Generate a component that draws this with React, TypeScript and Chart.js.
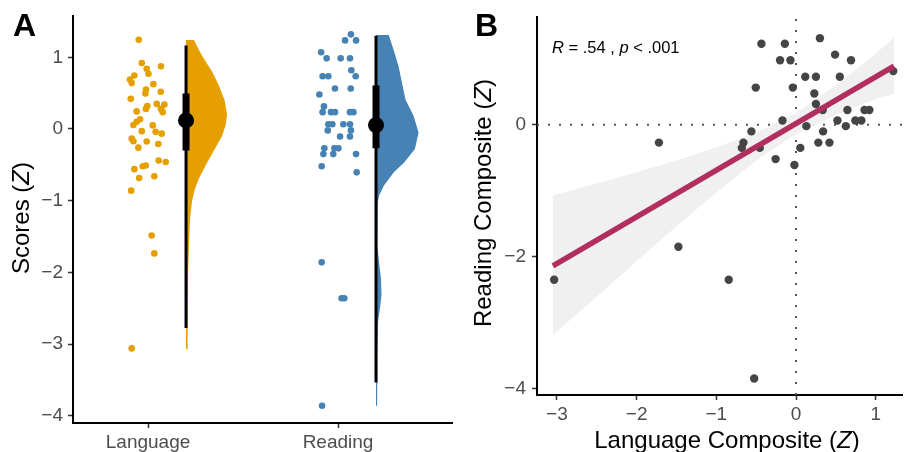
import React, { useEffect, useRef } from 'react';
import { Chart, registerables } from 'chart.js';

Chart.register(...registerables);

const FONT = "'Liberation Sans', Arial, Helvetica, sans-serif";

// ---------------- Panel A data ----------------
const categories = ['Language', 'Reading'];
const categoryPositions = [1, 2];
const scoreTicks = [-4, -3, -2, -1, 0, 1];
const panelAXRange = [0.605, 2.6];
const panelAYRange = [-4.1, 1.57];

const languageJitterX = [
  0.951, 0.967, 1.068, 0.993, 1.002, 0.928, 0.905, 0.914, 1.028, 0.989, 1.067, 0.986, 0.909, 1.046, 1.086,
  0.996, 0.989, 1.068, 0.94, 1.077, 0.958, 0.94, 0.923, 1.025, 0.967, 1.04, 1.072, 0.914, 0.923, 0.993,
  1.054, 0.949, 1.056, 1.093, 0.988, 0.972, 0.928, 1.033, 0.953, 0.911, 1.019, 1.033, 0.914,
];
const languageScores = [
  1.245, 0.92, 0.875, 0.84, 0.77, 0.745, 0.69, 0.64, 0.625, 0.55, 0.52, 0.495, 0.42, 0.35, 0.34,
  0.32, 0.28, 0.28, 0.245, 0.235, 0.135, 0.1, 0.055, 0.05, -0.03, -0.04, -0.065, -0.135, -0.17, -0.175,
  -0.21, -0.26, -0.44, -0.46, -0.51, -0.52, -0.56, -0.66, -0.685, -0.86, -1.485, -1.735, -3.06,
];
const readingJitterX = [
  2.068, 2.037, 2.095, 1.911, 1.94, 2.014, 2.063, 2.07, 1.919, 1.949, 2.093, 1.984, 2.067, 1.902, 1.926,
  1.919, 1.963, 1.984, 2.063, 2.081, 1.949, 1.97, 2.028, 2.063, 1.946, 2.068, 2.011, 2.063, 1.928, 1.981,
  2.002, 1.923, 1.975, 2.095, 1.914, 2.098, 1.914, 2.019, 2.033, 1.916,
];
const readingScores = [
  1.32, 1.235, 1.235, 1.07, 0.985, 0.985, 0.985, 0.82, 0.735, 0.735, 0.735, 0.565, 0.565, 0.48, 0.315,
  0.235, 0.235, 0.235, 0.235, 0.235, 0.065, 0.065, 0.065, 0.065, -0.02, -0.02, -0.105, -0.105, -0.27, -0.27,
  -0.27, -0.35, -0.35, -0.35, -0.52, -0.605, -1.86, -2.36, -2.36, -3.86,
];

const boxX = [1.2, 2.2];
const means = [0.12, 0.055];
const q1 = [-0.3, -0.27];
const q3 = [0.495, 0.605];
const whiskerLow = [-2.775, -3.535];
const whiskerHigh = [1.165, 1.3];

const languageViolinY = [1.24, 1.1, 1.0, 0.8, 0.6, 0.4, 0.2, 0.05, -0.1, -0.3, -0.5, -0.7, -0.85, -1.0, -1.25, -1.5, -1.75, -2.0, -2.5, -3.07];
const languageViolinWidth = [0.042, 0.068, 0.089, 0.137, 0.174, 0.203, 0.216, 0.208, 0.189, 0.147, 0.105, 0.066, 0.045, 0.032, 0.021, 0.017, 0.014, 0.011, 0.009, 0.008];
const readingViolinY = [1.31, 1.1, 0.87, 0.64, 0.41, 0.18, -0.05, -0.28, -0.47, -0.6, -0.79, -0.93, -1.02, -1.25, -1.62, -1.85, -2.08, -2.31, -2.5, -2.68, -3.1, -3.86];
const readingViolinWidth = [0.067, 0.093, 0.119, 0.137, 0.155, 0.198, 0.224, 0.205, 0.147, 0.095, 0.041, 0.016, 0.009, 0.006, 0.008, 0.016, 0.026, 0.029, 0.021, 0.011, 0.007, 0.006];

const groupColors = ['#E69F00', '#4682B4'];

// ---------------- Panel B data ----------------
const compositeXTicks = [-3, -2, -1, 0, 1];
const compositeYTicks = [-4, -2, 0];
const panelBXRange = [-3.25, 1.34];
const panelBYRange = [-4.1, 1.63];
const referenceValue = 0;

const languageComposite = [
  -0.434, -0.14, 0.3, -0.2, -0.07, 0.49, 0.69, 1.22, 0.116, 0.25, 0.55, -0.505, -0.04, 0.23, 0.25,
  0.335, 0.645, 0.86, 0.92, -0.17, 0.52, 0.745, 0.82, 0.13, 0.625, -0.56, 0.34, -0.66, -0.68, -0.455,
  0.28, 0.42, 0.054, -0.256, -0.02, -1.72, -1.476, -3.035, -0.844, -0.525,
];
const readingComposite = [
  1.23, 1.23, 1.315, 0.98, 0.98, 1.065, 0.98, 0.815, 0.73, 0.73, 0.73, 0.565, 0.565, 0.475, 0.315,
  0.225, 0.225, 0.225, 0.225, 0.065, 0.065, 0.065, 0.065, -0.02, -0.02, -0.1, -0.1, -0.27, -0.35, -0.35,
  -0.27, -0.27, -0.35, -0.52, -0.61, -0.27, -1.85, -2.35, -2.35, -3.85,
];
const fitX = [-3.05, 1.23];
const fitY = [-2.14, 0.89];
const bandX = [-3.05, -2.5, -2.0, -1.5, -1.0, -0.5, 0.0, 0.5, 1.0, 1.23];
const bandUpper = [-1.07, -0.89, -0.72, -0.54, -0.34, -0.12, 0.18, 0.6, 1.08, 1.33];
const bandLower = [-3.19, -2.61, -2.07, -1.54, -1.03, -0.54, -0.14, 0.15, 0.39, 0.47];

const fmt = (v: number) => String(v).replace('-', '\u2212');

function makeViolin(base: number, ys: number[], ws: number[]) {
  const pts: { x: number; y: number }[] = [{ x: base, y: ys[0] }];
  ys.forEach((y, i) => pts.push({ x: base + ws[i], y }));
  pts.push({ x: base, y: ys[ys.length - 1] });
  return pts;
}

const tickFont = { family: FONT, size: 19 };

function axis(range: number[], tickVals: number[], fitSize: number, isX: boolean, padding: number, labelFn: (v: number, i: number) => string) {
  return {
    type: 'linear' as const,
    min: range[0],
    max: range[1],
    afterBuildTicks: (s: any) => {
      s.ticks = tickVals.map((v) => ({ value: v }));
    },
    afterFit: (s: any) => {
      if (isX) s.height = fitSize;
      else s.width = fitSize;
    },
    grid: { drawOnChartArea: false, drawTicks: true, tickLength: 5, tickColor: '#333333', tickWidth: 1.5 },
    border: { display: true, color: '#000000', width: 2 },
    ticks: {
      autoSkip: false,
      maxRotation: 0,
      padding,
      color: '#4d4d4d',
      font: tickFont,
      callback: (v: any, i: number) => labelFn(v, i),
    },
  };
}

export default function App() {
  const refA = useRef<HTMLCanvasElement>(null);
  const refB = useRef<HTMLCanvasElement>(null);

  useEffect(() => {
    const datasetsA: any[] = [
      {
        type: 'scatter',
        data: means.map((m, i) => ({ x: boxX[i], y: m })),
        pointRadius: 8,
        backgroundColor: '#000',
        pointBorderWidth: 0,
        order: 0,
      },
      ...categories.map((_, i) => ({
        type: 'line',
        data: [{ x: boxX[i], y: q1[i] }, { x: boxX[i], y: q3[i] }],
        borderColor: '#000',
        borderWidth: 7,
        borderCapStyle: 'butt',
        pointRadius: 0,
        fill: false,
        order: 1,
      })),
      ...categories.map((_, i) => ({
        type: 'line',
        data: [{ x: boxX[i], y: whiskerLow[i] }, { x: boxX[i], y: whiskerHigh[i] }],
        borderColor: '#000',
        borderWidth: 3,
        borderCapStyle: 'butt',
        pointRadius: 0,
        fill: false,
        order: 2,
      })),
      {
        type: 'line',
        data: makeViolin(boxX[0], languageViolinY, languageViolinWidth),
        borderWidth: 0,
        backgroundColor: groupColors[0],
        fill: 'shape',
        pointRadius: 0,
        order: 3,
      },
      {
        type: 'line',
        data: makeViolin(boxX[1], readingViolinY, readingViolinWidth),
        borderWidth: 0,
        backgroundColor: groupColors[1],
        fill: 'shape',
        pointRadius: 0,
        order: 3,
      },
      {
        type: 'scatter',
        data: languageScores.map((y, i) => ({ x: languageJitterX[i], y })),
        pointRadius: 3.3,
        backgroundColor: groupColors[0],
        pointBorderWidth: 0,
        order: 4,
      },
      {
        type: 'scatter',
        data: readingScores.map((y, i) => ({ x: readingJitterX[i], y })),
        pointRadius: 3.3,
        backgroundColor: groupColors[1],
        pointBorderWidth: 0,
        order: 4,
      },
    ];

    const chartA = new Chart(refA.current!, {
      type: 'scatter',
      data: { datasets: datasetsA },
      options: {
        responsive: false,
        animation: false,
        devicePixelRatio: 1,
        events: [],
        layout: { padding: { left: 0, right: 8, top: 13, bottom: 0 } },
        plugins: { legend: { display: false }, tooltip: { enabled: false } },
        scales: {
          x: axis(panelAXRange, categoryPositions, 29, true, 3, (_v, i) => categories[i]) as any,
          y: axis(panelAYRange, scoreTicks, 73, false, 5, (v) => fmt(v)) as any,
        },
      },
    });

    const bandPolygon = [
      ...bandX.map((x, i) => ({ x, y: bandUpper[i] })),
      ...bandX.map((x, i) => ({ x, y: bandLower[i] })).reverse(),
    ];

    const datasetsB: any[] = [
      {
        type: 'line',
        data: fitX.map((x, i) => ({ x, y: fitY[i] })),
        borderColor: '#B22E5E',
        borderWidth: 5.5,
        borderCapStyle: 'butt',
        pointRadius: 0,
        fill: false,
        order: 0,
      },
      {
        type: 'scatter',
        data: languageComposite.map((x, i) => ({ x, y: readingComposite[i] })),
        pointRadius: 4.2,
        backgroundColor: '#454545',
        pointBorderWidth: 0,
        order: 1,
      },
      {
        type: 'line',
        data: bandPolygon,
        borderWidth: 0,
        backgroundColor: '#f0f0f0',
        fill: 'shape',
        pointRadius: 0,
        order: 2,
      },
      {
        type: 'line',
        data: [{ x: panelBXRange[0], y: referenceValue }, { x: panelBXRange[1], y: referenceValue }],
        borderColor: '#555555',
        borderWidth: 2,
        borderDash: [2, 9],
        pointRadius: 0,
        fill: false,
        order: 3,
      },
      {
        type: 'line',
        data: [{ x: referenceValue, y: panelBYRange[0] }, { x: referenceValue, y: panelBYRange[1] }],
        borderColor: '#555555',
        borderWidth: 2,
        borderDash: [2, 9],
        pointRadius: 0,
        fill: false,
        order: 3,
      },
    ];

    const chartB = new Chart(refB.current!, {
      type: 'scatter',
      data: { datasets: datasetsB },
      options: {
        responsive: false,
        animation: false,
        devicePixelRatio: 1,
        events: [],
        layout: { padding: { left: 0, right: 0, top: 13, bottom: 0 } },
        plugins: { legend: { display: false }, tooltip: { enabled: false } },
        scales: {
          x: axis(panelBXRange, compositeXTicks, 57, true, 3, (v) => fmt(v)) as any,
          y: axis(panelBYRange, compositeYTicks, 77, false, 6, (v) => fmt(v)) as any,
        },
      },
    });

    return () => {
      chartA.destroy();
      chartB.destroy();
    };
  }, []);

  const base: React.CSSProperties = {
    position: 'absolute',
    fontFamily: FONT,
    lineHeight: 1,
    whiteSpace: 'nowrap',
    color: '#000',
  };

  return (
    <div style={{ position: 'absolute', left: 0, top: 0, width: 907, height: 452, background: '#fff', overflow: 'hidden' }}>
      <canvas ref={refA} width={460} height={452} style={{ position: 'absolute', left: 0, top: 0 }} />
      <canvas ref={refB} width={447} height={452} style={{ position: 'absolute', left: 460, top: 0 }} />
      <div style={{ ...base, left: 13, top: 9, fontSize: 32, fontWeight: 'bold' }}>A</div>
      <div style={{ ...base, left: 475, top: 9, fontSize: 32, fontWeight: 'bold' }}>B</div>
      <div style={{ ...base, left: 21, top: 218, fontSize: 24, transform: 'translate(-50%, -50%) rotate(-90deg)' }}>
        Scores (<i>Z</i>)
      </div>
      <div style={{ ...base, left: 483, top: 203, fontSize: 24, transform: 'translate(-50%, -50%) rotate(-90deg)' }}>
        Reading Composite (<i>Z</i>)
      </div>
      <div style={{ ...base, left: 727, top: 428, fontSize: 24, transform: 'translateX(-50%)' }}>
        Language Composite (<i>Z</i>)
      </div>
      <div style={{ ...base, left: 552, top: 38.5, fontSize: 16.5 }}>
        <i>R</i> = .54 , <i>p</i> &lt; .001
      </div>
    </div>
  );
}
